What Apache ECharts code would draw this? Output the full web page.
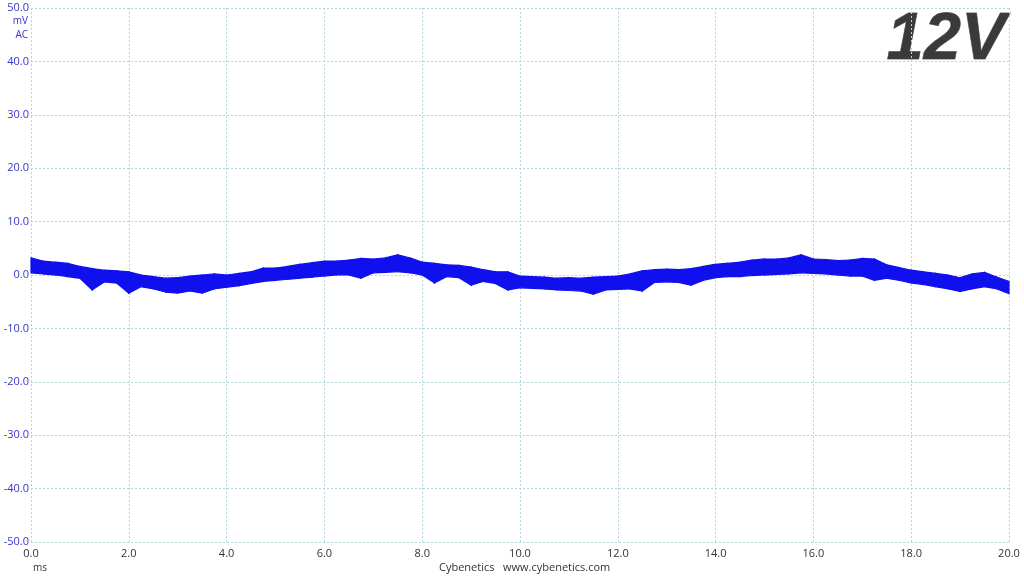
<!DOCTYPE html>
<html>
<head>
<meta charset="utf-8">
<script src="https://cdn.jsdelivr.net/npm/echarts@6/dist/echarts.min.js"></script>
<style>
html,body{margin:0;padding:0;background:#fff;}
#chart{width:1024px;height:576px;}
</style>
</head>
<body>
<div id="chart"></div>
<script>
// time axis (ms), one sample every 0.25 ms
var timeMs = [
	0.00, 0.25, 0.50, 0.75, 1.00, 1.25, 1.50, 1.75, 2.00, 2.25,
	2.50, 2.75, 3.00, 3.25, 3.50, 3.75, 4.00, 4.25, 4.50, 4.75,
	5.00, 5.25, 5.50, 5.75, 6.00, 6.25, 6.50, 6.75, 7.00, 7.25,
	7.50, 7.75, 8.00, 8.25, 8.50, 8.75, 9.00, 9.25, 9.50, 9.75,
	10.00, 10.25, 10.50, 10.75, 11.00, 11.25, 11.50, 11.75, 12.00, 12.25,
	12.50, 12.75, 13.00, 13.25, 13.50, 13.75, 14.00, 14.25, 14.50, 14.75,
	15.00, 15.25, 15.50, 15.75, 16.00, 16.25, 16.50, 16.75, 17.00, 17.25,
	17.50, 17.75, 18.00, 18.25, 18.50, 18.75, 19.00, 19.25, 19.50, 19.75,
	20.00
];
// upper envelope of the ripple trace (mV)
var upperMv = [
	3.2, 2.6, 2.4, 2.2, 1.6, 1.2, 0.9, 0.8, 0.6, 0.0,
	-0.3, -0.6, -0.5, -0.2, 0.0, 0.2, 0.0, 0.3, 0.6, 1.3,
	1.3, 1.6, 2.0, 2.3, 2.6, 2.6, 2.8, 3.1, 3.0, 3.2,
	3.8, 3.2, 2.4, 2.2, 1.9, 1.8, 1.5, 1.0, 0.6, 0.6,
	-0.2, -0.3, -0.4, -0.6, -0.5, -0.6, -0.4, -0.3, -0.2, 0.2,
	0.8, 1.0, 1.1, 1.0, 1.2, 1.6, 2.0, 2.2, 2.4, 2.8,
	3.0, 3.0, 3.2, 3.8, 3.0, 2.9, 2.7, 2.8, 3.1, 3.0,
	1.9, 1.4, 0.9, 0.6, 0.3, 0.0, -0.5, 0.2, 0.5, -0.4,
	-1.2
];
// lower envelope of the ripple trace (mV)
var lowerMv = [
	0.4, 0.2, 0.0, -0.3, -0.6, -2.8, -1.3, -1.5, -3.4, -2.2,
	-2.6, -3.2, -3.4, -3.0, -3.4, -2.6, -2.3, -2.0, -1.6, -1.2,
	-1.0, -0.8, -0.6, -0.4, -0.2, 0.0, 0.0, -0.6, 0.4, 0.5,
	0.6, 0.4, 0.0, -1.5, -0.3, -0.5, -1.9, -1.2, -1.6, -2.8,
	-2.4, -2.5, -2.6, -2.8, -2.9, -3.0, -3.6, -2.8, -2.7, -2.6,
	-3.0, -1.4, -1.3, -1.4, -1.9, -1.0, -0.5, -0.3, -0.3, -0.1,
	0.0, 0.1, 0.2, 0.4, 0.3, 0.2, 0.0, -0.2, -0.2, -1.0,
	-0.6, -1.0, -1.5, -1.8, -2.2, -2.6, -3.1, -2.6, -2.2, -2.6,
	-3.5
];
var yMin = -50, yMax = 50, yStep = 10;
var xMin = 0, xMax = 20, xStep = 2;

var gridColor = '#b5d6e0';
var traceColor = '#1010ee';

// one quad per segment between consecutive samples
var segs = [];
for (var i = 0; i < timeMs.length - 1; i++) {
	segs.push([timeMs[i], lowerMv[i], upperMv[i], timeMs[i + 1], lowerMv[i + 1], upperMv[i + 1]]);
}

var option = {
	animation: false,
	backgroundColor: '#fff',
	grid: { left: 31, right: 15, top: 8, bottom: 34, containLabel: false },
	xAxis: {
		type: 'value', min: xMin, max: xMax, interval: xStep,
		axisLine: { show: false }, axisTick: { show: false },
		axisLabel: {
			color: '#333', fontSize: 11, fontFamily: 'Open Sans', margin: 6,
			formatter: function(v) { return v.toFixed(1); }
		},
		splitLine: { show: true, lineStyle: { color: gridColor, type: [2, 2], width: 1 } }
	},
	yAxis: {
		type: 'value', min: yMin, max: yMax, interval: yStep,
		axisLine: { show: false }, axisTick: { show: false },
		axisLabel: {
			color: '#3636c8', fontSize: 11, fontFamily: 'Open Sans', margin: 2,
			formatter: function(v) { return v.toFixed(1); }
		},
		splitLine: { show: true, lineStyle: { color: gridColor, type: [2, 2], width: 1 } }
	},
	series: [{
		type: 'custom',
		coordinateSystem: 'cartesian2d',
		data: segs,
		encode: { x: [0, 3], y: [1, 2, 4, 5] },
		renderItem: function(params, api) {
			var a = api.coord([api.value(0), api.value(2)]);
			var b = api.coord([api.value(3), api.value(5)]);
			var c = api.coord([api.value(3), api.value(4)]);
			var d = api.coord([api.value(0), api.value(1)]);
			return {
				type: 'polygon',
				shape: { points: [a, b, c, d] },
				style: { fill: traceColor, stroke: traceColor, lineWidth: 1.2 }
			};
		}
	}],
	graphic: [
		{ type: 'text', right: 996, top: 16, style: { text: 'mV', fill: '#3636c8', font: '10px "Open Sans"', textAlign: 'right' } },
		{ type: 'text', right: 996, top: 30, style: { text: 'AC', fill: '#3636c8', font: '10px "Open Sans"', textAlign: 'right' } },
		{ type: 'text', left: 33, top: 563, style: { text: 'ms', fill: '#333', font: '10px "Open Sans"' } },
		{ type: 'text', left: 439, top: 562, style: { text: 'Cybenetics   www.cybenetics.com', fill: '#333', font: '11px "Open Sans"' } },
		{ type: 'text', left: 886, top: 7, style: {
			text: '12V', font: 'italic bold 67px "Liberation Sans"',
			fill: '#3a3a3a', stroke: '#7a7a7a', lineWidth: 0.8,
			shadowColor: 'rgba(0,0,0,0.3)', shadowBlur: 2, shadowOffsetX: 1, shadowOffsetY: 2
		} }
	]
};

var myChart = echarts.init(document.getElementById('chart'));
myChart.setOption(option);
</script>
</body>
</html>
